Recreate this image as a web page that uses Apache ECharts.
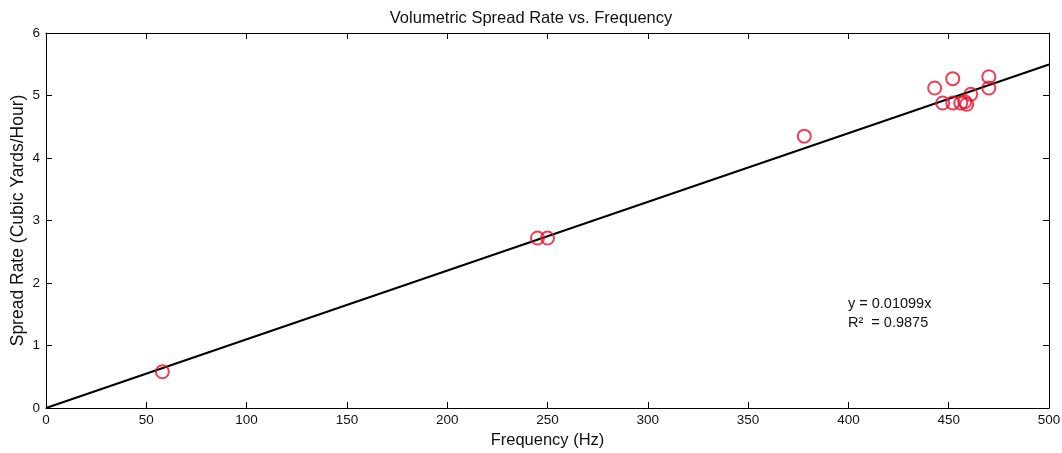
<!DOCTYPE html>
<html><head><meta charset="utf-8">
<script src="https://cdn.jsdelivr.net/npm/echarts@6/dist/echarts.min.js"></script>
<style>html,body{margin:0;padding:0;background:#fff}#c{width:1062px;height:453px}</style>
</head><body><div id="c"></div>
<script>
const freq = [58, 245, 250, 378, 443, 447, 452, 452, 456, 458, 459, 461, 470, 470];
const rate = [0.58, 2.72, 2.72, 4.35, 5.12, 4.88, 4.88, 5.27, 4.88, 4.9, 4.86, 5.02, 5.3, 5.12];
const slope = 0.01099;
const fitX = [0, 500];
const xTicks = [0, 50, 100, 150, 200, 250, 300, 350, 400, 450, 500];
const yTicks = [0, 1, 2, 3, 4, 5, 6];

const pts = freq.map((f, i) => [f, rate[i]]);
const fit = fitX.map(x => [x, slope * x]);
const font = 'Liberation Sans, Arial, sans-serif';
const axCommon = {
  axisLine: {show: true, onZero: false, lineStyle: {color: '#000', width: 1}},
  axisTick: {show: true, inside: true, length: 6, lineStyle: {color: '#000'}},
  splitLine: {show: false}
};
const chart = echarts.init(document.getElementById('c'));
chart.setOption({
  animation: false,
  backgroundColor: '#fff',
  title: {text: 'Volumetric Spread Rate vs. Frequency', left: 'center', top: 5,
    textStyle: {fontFamily: font, fontSize: 16.5, fontWeight: 'normal', color: '#111'}},
  grid: {left: 46, right: 13, top: 33, bottom: 45, containLabel: false, outerBoundsMode: 'none'},
  xAxis: [
    Object.assign({type: 'value', min: 0, max: 500, interval: 50, position: 'bottom',
      name: 'Frequency (Hz)', nameLocation: 'middle', nameGap: 23,
      nameTextStyle: {fontFamily: font, fontSize: 16.5, color: '#111'},
      axisLabel: {fontFamily: font, fontSize: 13.5, color: '#111', margin: 5}}, axCommon),
    Object.assign({type: 'value', min: 0, max: 500, interval: 50, position: 'top',
      axisLabel: {show: false}}, axCommon)
  ],
  yAxis: [
    Object.assign({type: 'value', min: 0, max: 6, interval: 1, position: 'left',
      name: 'Spread Rate (Cubic Yards/Hour)', nameLocation: 'middle', nameGap: 19,
      nameMoveOverlap: false,
      nameTextStyle: {fontFamily: font, fontSize: 17.5, color: '#111'},
      axisLabel: {fontFamily: font, fontSize: 13.5, color: '#111', margin: 6}}, axCommon),
    Object.assign({type: 'value', min: 0, max: 6, interval: 1, position: 'right',
      axisLabel: {show: false}}, axCommon)
  ],
  series: [
    {type: 'line', data: fit, symbol: 'none', lineStyle: {color: '#000', width: 2}, z: 2},
    {type: 'scatter', data: pts, symbol: 'circle', symbolSize: 13,
      itemStyle: {color: 'rgba(255,255,255,0)', borderColor: '#e8102a', borderWidth: 2}, z: 3}
  ],
  graphic: [
    {type: 'text', left: 848, top: 296, style: {text: 'y = 0.01099x', fontFamily: font, fontSize: 14.5, fill: '#111'}},
    {type: 'text', left: 848, top: 315, style: {text: 'R\u00b2  = 0.9875', fontFamily: font, fontSize: 14.5, fill: '#111'}}
  ]
});
</script></body></html>
